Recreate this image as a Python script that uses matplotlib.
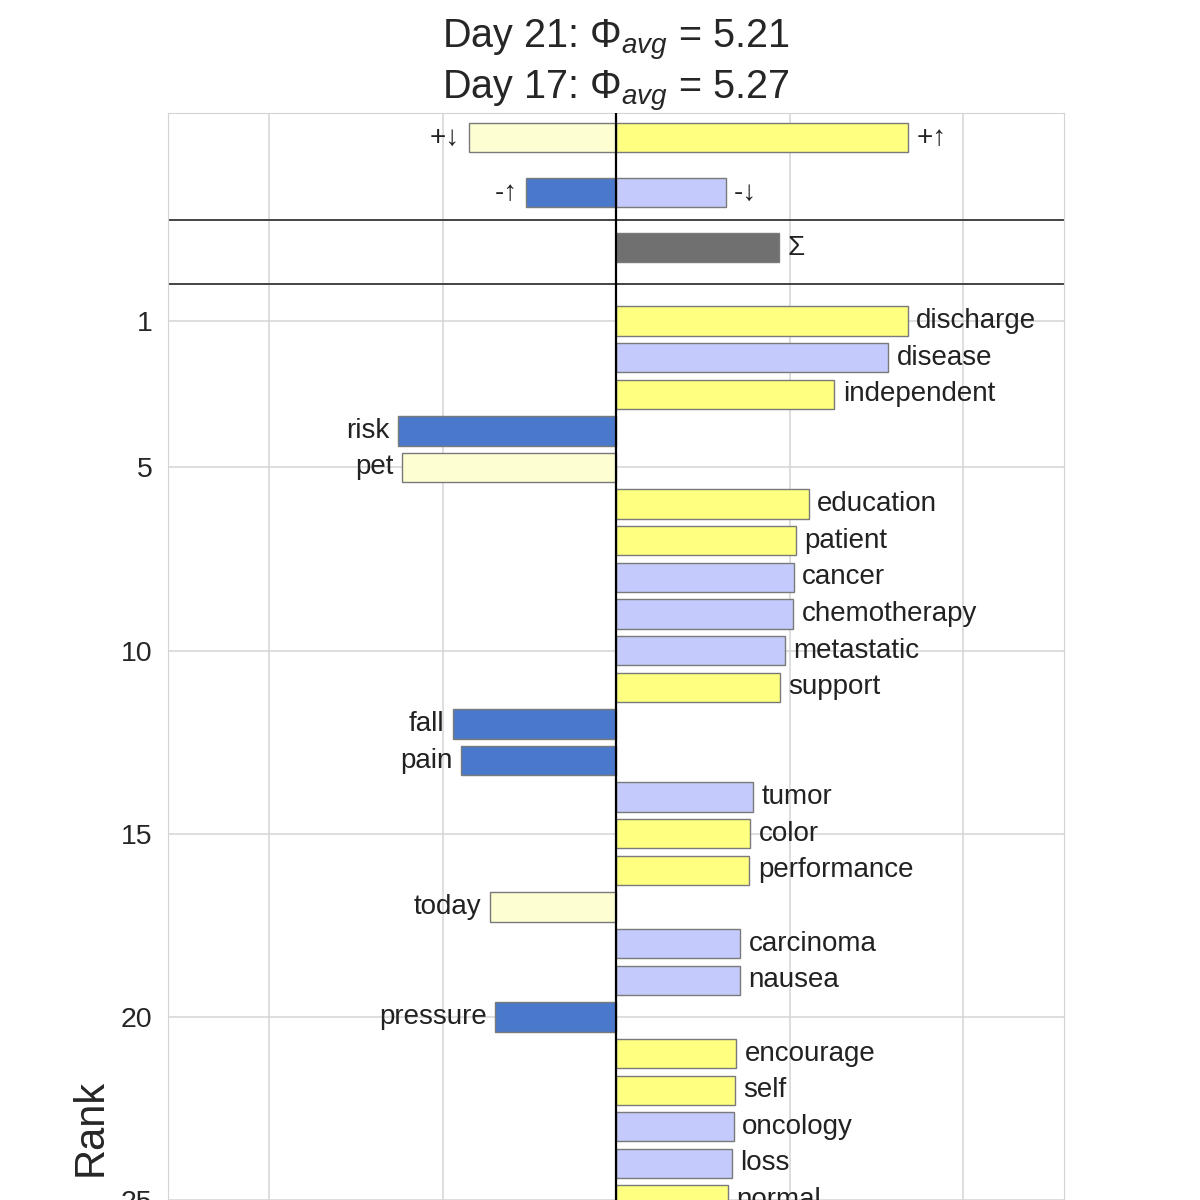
"""
Word shift graph: Day 21 compared with Day 17.
"""
import matplotlib
matplotlib.use('Agg')
import matplotlib.pyplot as plt
import seaborn as sns

# word contributions, ranked from 1 (top) downwards
WORDS = ['discharge', 'disease', 'independent', 'risk', 'pet', 'education', 'patient', 'cancer',
         'chemotherapy', 'metastatic', 'support', 'fall', 'pain', 'tumor', 'color', 'performance',
         'today', 'carcinoma', 'nausea', 'pressure', 'encourage', 'self', 'oncology', 'loss', 'normal']
SHIFTS = [1.682, 1.569, 1.259, -1.256, -1.236, 1.111, 1.038, 1.025,
          1.021, 0.971, 0.944, -0.941, -0.892, 0.789, 0.773, 0.769,
          -0.729, 0.716, 0.712, -0.696, 0.693, 0.685, 0.680, 0.667, 0.645]
TYPES = ['+up', '-down', '+up', '-up', '+down', '+up', '+up', '-down',
         '-down', '-down', '+up', '-up', '-up', '-down', '+up', '+up',
         '+down', '-down', '-down', '-up', '+up', '+up', '-down', '-down', '+up']

# summary bars at the top of the graph
SUMMARY_LABELS = ['+\u2193', '+\u2191', '-\u2191', '-\u2193', '\u03a3']
SUMMARY_VALUES = [-0.850, 1.682, -0.516, 0.631, 0.942]
SUMMARY_TYPES = ['+down', '+up', '-up', '-down', 'total']

RANK_TICKS = [1, 5, 10, 15, 20, 25]
TITLE = 'Day 21: $\\Phi_{avg}$ = 5.21\nDay 17: $\\Phi_{avg}$ = 5.27'

COLORS = {'+up': '#FFFF80', '+down': '#FDFFD2', '-up': '#4A79CB', '-down': '#C4CAFC', 'total': '#707070'}


def draw_bars(ax, ypos, values, types, labels, size=20):
    """
    Draws horizontal bars and puts each label just past the end of its bar.
    """
    colors = [COLORS[t] for t in types]
    ax.barh(ypos, values, height=0.8, color=colors, edgecolor='#7a7a7a', linewidth=1.0, zorder=3)
    for y, v, lab in zip(ypos, values, labels):
        if v >= 0:
            ax.annotate(lab, (v, y), xytext=(6, 0), textcoords='offset points',
                        ha='left', va='center', fontsize=size, color='#222222', zorder=4)
        else:
            ax.annotate(lab, (v, y), xytext=(-6, 0), textcoords='offset points',
                        ha='right', va='center', fontsize=size, color='#222222', zorder=4)


sns.set_style('whitegrid')
plt.rcParams['font.family'] = ['Liberation Sans', 'DejaVu Sans']
plt.rcParams['mathtext.fontset'] = 'custom'
plt.rcParams['mathtext.rm'] = 'Liberation Sans'
plt.rcParams['mathtext.it'] = 'Liberation Sans:italic'

fig = plt.figure(figsize=(12, 12), dpi=100)
ax = fig.add_axes([0.14, -0.0333, 0.7467, 0.9392])

ranks = list(range(1, len(WORDS) + 1))
draw_bars(ax, ranks, SHIFTS, TYPES, WORDS)

summary_rows = [-4, -4, -2.5, -2.5, -1]
draw_bars(ax, summary_rows, SUMMARY_VALUES, SUMMARY_TYPES, SUMMARY_LABELS)

ax.axvline(0, color='black', linewidth=1.6, zorder=5)
ax.axhline(-1.75, color='#444444', linewidth=1.4, zorder=2)
ax.axhline(0, color='#444444', linewidth=1.4, zorder=2)

ax.set_xlim(-2.582, 2.582)
ax.set_xticks([-2, -1, 0, 1, 2])
ax.set_xticklabels([])
ax.set_ylim(26.09, -4.68)
ax.set_yticks(RANK_TICKS)
ax.set_yticklabels([str(r) for r in RANK_TICKS], fontsize=20.5)
ax.tick_params(axis='y', pad=7.5)
ax.grid(True, color='#d4d4d4', linewidth=1.1, zorder=0)
for s in ax.spines.values():
    s.set_color('#d4d4d4')

ax.set_ylabel('Rank', fontsize=30)
ax.yaxis.set_label_coords(-0.064, 0.1)
ax.set_title(TITLE, fontsize=28.5, pad=9)

fig.savefig('out.png', dpi=100)
